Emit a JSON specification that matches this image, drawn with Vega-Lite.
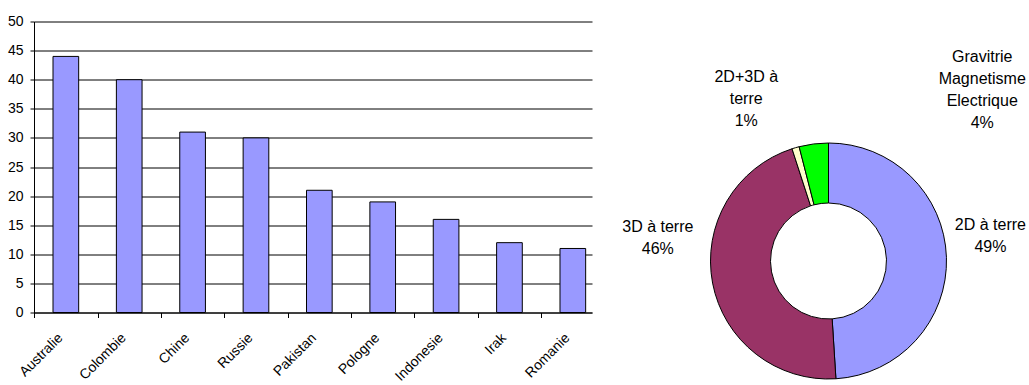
{
  "$schema": "https://vega.github.io/schema/vega-lite/v6.json",
  "background": "white",
  "padding": {"left": 7, "top": 14.5, "right": 5, "bottom": 0},
  "config": {"view": {"stroke": null}, "font": "Liberation Sans", "concat": {"spacing": 30}},
  "hconcat": [
    {
      "width": 558,
      "height": 291,
      "data": {"values": [
        {"pays": "Australie", "valeur": 44},
        {"pays": "Colombie", "valeur": 40},
        {"pays": "Chine", "valeur": 31},
        {"pays": "Russie", "valeur": 30},
        {"pays": "Pakistan", "valeur": 21},
        {"pays": "Pologne", "valeur": 19},
        {"pays": "Indonesie", "valeur": 16},
        {"pays": "Irak", "valeur": 12},
        {"pays": "Romanie", "valeur": 11}
      ]},
      "mark": {"type": "bar", "fill": "#9999FF", "stroke": "#000000", "strokeWidth": 1},
      "encoding": {
        "x": {
          "field": "pays", "type": "nominal", "sort": null, "title": null,
          "scale": {"paddingInner": 0.595, "paddingOuter": 0.2, "align": 0.75},
          "axis": {"labelAngle": -45, "labelAlign": "right", "labelBaseline": "top", "labelFontSize": 14, "labelColor": "black", "tickColor": "black", "domainColor": "black", "tickSize": 5, "bandPosition": 0.5, "tickOffset": -31.7, "labelOffset": 21, "labelPadding": 13, "grid": false}
        },
        "y": {
          "field": "valeur", "type": "quantitative", "title": null,
          "scale": {"domain": [0, 50]},
          "axis": {"values": [0, 5, 10, 15, 20, 25, 30, 35, 40, 45, 50], "grid": true, "gridColor": "black", "gridOpacity": 1, "domainColor": "black", "tickColor": "black", "tickSize": 4, "labelPadding": 7, "labelFontSize": 14, "labelColor": "black"}
        }
      }
    },
    {
      "width": 355,
      "height": 291,
      "data": {"values": [
        {"type": "2D à terre", "pct": 49, "ordre": 1, "label": "2D à terre\n49%"},
        {"type": "3D à terre", "pct": 46, "ordre": 2, "label": "3D à terre\n46%"},
        {"type": "2D+3D à terre", "pct": 1, "ordre": 3, "label": "2D+3D à\nterre\n1%"},
        {"type": "Gravitrie Magnetisme Electrique", "pct": 4, "ordre": 4, "label": "Gravitrie\nMagnetisme\nElectrique\n4%"}
      ]},
      "encoding": {
        "theta": {"field": "pct", "type": "quantitative", "stack": true},
        "order": {"field": "ordre", "type": "quantitative"}
      },
      "layer": [
        {
          "mark": {"type": "arc", "outerRadius": 118, "innerRadius": 58, "stroke": "black", "strokeWidth": 1, "yOffset": 94},
          "encoding": {
            "color": {"field": "type", "type": "nominal", "legend": null,
              "scale": {"domain": ["2D à terre", "3D à terre", "2D+3D à terre", "Gravitrie Magnetisme Electrique"], "range": ["#9999FF", "#993366", "#FFFFCC", "#00FF00"]}}
          }
        },
        {
          "mark": {"type": "text", "radius": 130, "yOffset": 94, "fontSize": 16, "lineBreak": "\n", "lineHeight": 22, "align": "center", "baseline": "middle", "color": "black",
            "dx": {"expr": "datum.ordre == 1 ? 32 : datum.ordre == 2 ? -43 : datum.ordre == 3 ? -46 : 170"},
            "dy": {"expr": "datum.ordre == 1 ? -32 : datum.ordre == 2 ? -58 : datum.ordre == 3 ? -59 : -75"}},
          "encoding": {"text": {"field": "label"}}
        }
      ]
    }
  ]
}
